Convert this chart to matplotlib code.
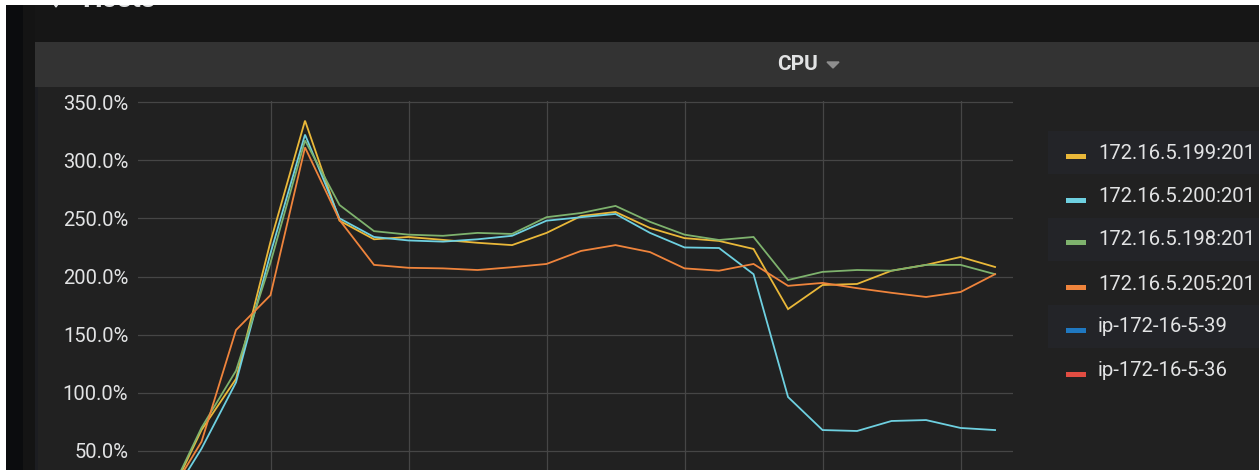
import numpy as np
import matplotlib.pyplot as plt
from matplotlib.patches import Rectangle, Polygon

plt.rcParams['font.family'] = ['Roboto', 'DejaVu Sans']

# sample index along the time axis
t = np.arange(25)

series_names = ["172.16.5.199:201", "172.16.5.200:201", "172.16.5.198:201",
                "172.16.5.205:201", "ip-172-16-5-39", "ip-172-16-5-36"]
series_colors = ["#EAB839", "#6ED0E0", "#7EB26D", "#EF843C", "#1F78C1", "#E24D42"]

cpu_199 = [6, 68, 112, 230, 334, 248, 232, 234, 231.5, 229, 227, 237.5, 252,
           255.5, 241.7, 233, 230.6, 223.7, 172, 192.7, 193.6, 205, 210, 216.8, 208.2]
cpu_200 = [4, 52, 109, 220, 322, 250, 234, 231, 230, 232, 235, 248, 251,
           253.8, 237.5, 225, 224.5, 202, 96.4, 68, 67.2, 75.8, 76.6, 69.8, 68]
cpu_198 = [8, 70, 119, 212, 317, 261.5, 239, 236, 235, 237.5, 236.6, 251, 254.6,
           260.7, 247, 236, 231.4, 234, 197, 204, 205.6, 205, 210, 210, 202]
cpu_205 = [9, 58, 154, 184, 311, 248.6, 210, 207.5, 207, 205.6, 208, 210.8, 222,
           227, 221, 207, 205, 210.8, 192, 194.5, 190, 186, 182.4, 186.7, 202]
cpu_39 = []
cpu_36 = []
series_values = [cpu_199, cpu_200, cpu_198, cpu_205, cpu_39, cpu_36]

y_ticks = [50, 100, 150, 200, 250, 300, 350]
x_grid = [3, 7, 11, 15, 19, 23]

W, H = 1259, 470
TXT = '#e2e3e4'


def px(x):
    return x / W


def py(y):
    return 1 - y / H


def fig_rect(fig, x0, y0, x1, y1, color, z=0):
    fig.patches.append(Rectangle((px(x0), py(y1)), px(x1 - x0), (y1 - y0) / H,
                                 transform=fig.transFigure, color=color,
                                 zorder=z, lw=0))


fig = plt.figure(figsize=(W / 100, H / 100), dpi=100, facecolor='white')

# dashboard background pieces
fig_rect(fig, 6, 5, 23, H, '#0b0c0e')
fig_rect(fig, 23, 5, 35, H, '#141414')
fig_rect(fig, 35, 5, W, 42, '#161616')
fig_rect(fig, 35, 42, W, 87, '#333333')
fig_rect(fig, 35, 87, W, H, '#212121')
fig_rect(fig, 35, 87, 38, H, '#1c1d21')

# row header, mostly cut off by the screenshot edge
fig.text(px(82), py(7), "Hosts", fontsize=20, weight='bold', color=TXT,
         va='baseline', ha='left', zorder=1)
fig.patches.append(Polygon([(px(52), py(1)), (px(60), py(1)), (px(56), py(7))],
                           closed=True, transform=fig.transFigure,
                           color=TXT, zorder=1))
fig_rect(fig, 0, 0, W, 5, 'white', z=5)
fig_rect(fig, 0, 0, 6, H, 'white', z=5)

# panel title
fig.text(px(797), py(65), "CPU", fontsize=15, weight='bold', color=TXT,
         ha='center', va='center', zorder=3)
fig.patches.append(Polygon([(px(827), py(62)), (px(839), py(62)), (px(833), py(68))],
                           closed=True, transform=fig.transFigure,
                           color='#8e8e8e', zorder=2))

# graph area
ax = fig.add_axes([px(138), 0, px(1013 - 138), (470 - 101) / H])
ax.set_zorder(3)
ax.set_facecolor('none')
for name, color, vals in zip(series_names, series_colors, series_values):
    if len(vals):
        ax.plot(t[:len(vals)], vals, color=color, lw=1.3, label=name,
                solid_joinstyle='miter')

ax.set_xlim(-0.8406, 24.52)
ax.set_ylim(33.66, 350.9)
ax.set_yticks(y_ticks)
ax.set_yticklabels(["{:.1f}%".format(v) for v in y_ticks])
ax.set_xticks(x_grid)
ax.set_xticklabels([])
ax.grid(True, color='#464646', lw=0.9)
ax.set_axisbelow(True)
for s in ax.spines.values():
    s.set_visible(False)
ax.tick_params(axis='y', length=0, pad=7, labelsize=14.5, labelcolor=TXT)
ax.tick_params(axis='x', length=0)

# legend on the right, alternate rows slightly lighter
row_y = [153, 197, 240, 284, 327, 371]
for i, (name, color) in enumerate(zip(series_names, series_colors)):
    y = row_y[i]
    if i % 2 == 0:
        fig_rect(fig, 1048, y - 22, W, y + 21, '#232428', z=1)
    fig_rect(fig, 1066, y + 0.5, 1086, y + 5.5, color, z=2)
    fig.text(px(1098), py(y), name, fontsize=14.6, color=TXT,
             ha='left', va='center', zorder=3)

fig.savefig('out.png', dpi=100, facecolor=fig.get_facecolor())
